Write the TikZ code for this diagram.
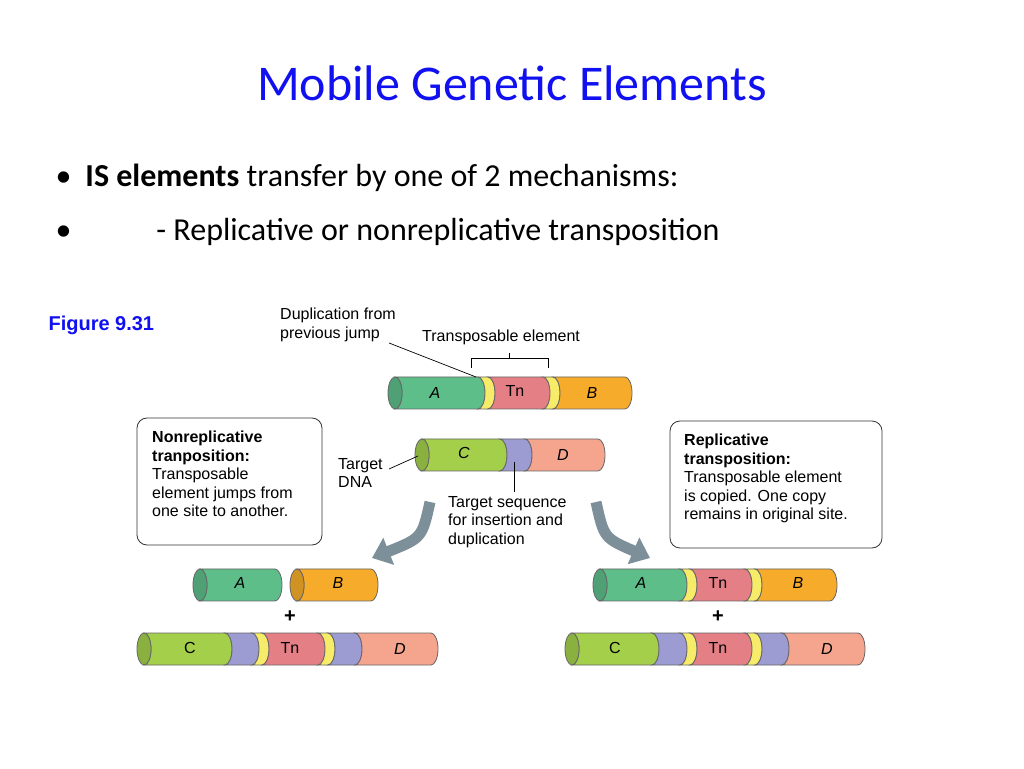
\documentclass[tikz,border=0pt]{standalone}
\usepackage{fontspec}
\setmainfont{Carlito}
\newfontfamily\arial{Liberation Sans}
\usetikzlibrary{arrows.meta}
\definecolor{cA}{HTML}{5DBE8A}
\definecolor{cY}{HTML}{F7EC6A}
\definecolor{cT}{HTML}{E57F86}
\definecolor{cB}{HTML}{F6AC2A}
\definecolor{cC}{HTML}{A3CF4A}
\definecolor{cP}{HTML}{9C9CD2}
\definecolor{cD}{HTML}{F5A48E}
\definecolor{ttl}{HTML}{1010F0}
\definecolor{arr}{HTML}{7D909A}
\newcommand{\seg}[4]{\fill[#4,draw=black!60,line width=0.8pt] (#1,#3+16) -- (#2,#3+16) arc[start angle=90,end angle=-90,x radius=7,y radius=16] -- (#1,#3-16) arc[start angle=-90,end angle=90,x radius=7,y radius=16] -- cycle;}
\newcommand{\capl}[3]{\fill[#3!85!black,draw=black!60,line width=0.8pt] (#1,#2) ellipse[x radius=7,y radius=16];}
\tikzset{lab/.style={font=\arial\fontsize{16}{18.5}\selectfont,align=left,inner sep=0pt},
 seglab/.style={font=\arial\fontsize{16}{18}\selectfont},
 bx/.style={draw=black!80,rounded corners=10pt,line width=0.8pt},
 ln/.style={draw=black,line width=0.7pt},
 bigarrow/.style={draw=arr,line width=11pt,-{Triangle[length=18pt,width=28pt]}}}
\begin{document}
\begin{tikzpicture}[x=1pt,y=1pt]
\useasboundingbox (0,0) rectangle (1024,768);
\node[text=ttl,font=\fontsize{50}{56}\selectfont] (title) at (512,685) {Mobile Genetic Elements};
\node[anchor=west,font=\fontsize{32}{36}\selectfont] (b1) at (52,590) {•\hspace{14pt}\textbf{IS elements} transfer by one of 2 mechanisms:};
\node[anchor=west,font=\fontsize{32}{36}\selectfont] (b2) at (52,536) {•\hspace{85pt}- Replicative or nonreplicative transposition};
\node[anchor=west,text=ttl,font=\arial\bfseries\fontsize{20}{24}\selectfont] (fig) at (45,443) {Figure 9.31};
% top bar
\seg{395}{478}{375}{cA}\seg{478}{488}{375}{cY}\seg{488}{543}{375}{cT}\seg{543}{553}{375}{cY}\seg{553}{625}{375}{cB}\capl{395}{375}{cA}
\node[seglab] (tA) at (435,375) {\textit{A}};\node[seglab] (tT) at (515,377) {Tn};\node[seglab] (tB) at (592,375) {\textit{B}};
% CD bar
\seg{422}{500}{313}{cC}\seg{500}{525}{313}{cP}\seg{525}{598}{313}{cD}\capl{422}{313}{cC}
\node[seglab] (tC) at (464,315) {\textit{C}};\node[seglab] (tD) at (563,313) {\textit{D}};
% bottom left
\seg{200}{275}{183}{cA}\capl{200}{183}{cA}\seg{297}{371}{183}{cB}\capl{297}{183}{cB}
\node[seglab] at (240,185) {\textit{A}};\node[seglab] at (338,185) {\textit{B}};
\node[font=\arial\bfseries\fontsize{20}{22}\selectfont] (p1) at (290,151) {+};
\seg{144}{225}{119}{cC}\seg{225}{252}{119}{cP}\seg{252}{262}{119}{cY}\seg{262}{318}{119}{cT}\seg{318}{328}{119}{cY}\seg{328}{355}{119}{cP}\seg{355}{431}{119}{cD}\capl{144}{119}{cC}
\node[seglab] at (190,120) {C};\node[seglab] at (290,120) {Tn};\node[seglab] at (400,119) {\textit{D}};
% bottom right
\seg{600}{680}{183}{cA}\seg{680}{690}{183}{cY}\seg{690}{745}{183}{cT}\seg{745}{755}{183}{cY}\seg{755}{830}{183}{cB}\capl{600}{183}{cA}
\node[seglab] at (641,185) {\textit{A}};\node[seglab] at (718,185) {Tn};\node[seglab] at (798,185) {\textit{B}};
\node[font=\arial\bfseries\fontsize{20}{22}\selectfont] (p2) at (718,151) {+};
\seg{572}{652}{119}{cC}\seg{652}{680}{119}{cP}\seg{680}{690}{119}{cY}\seg{690}{745}{119}{cT}\seg{745}{755}{119}{cY}\seg{755}{782}{119}{cP}\seg{782}{858}{119}{cD}\capl{572}{119}{cC}
\node[seglab] at (615,120) {C};\node[seglab] at (718,120) {Tn};\node[seglab] at (827,119) {\textit{D}};
% labels
\node[lab,anchor=north west] (dup) at (280,460) {Duplication from\\previous jump};
\node[lab,anchor=north west] (te) at (422,438) {Transposable element};
\coordinate (dupe) at (389,425); \coordinate (dupt) at (476,391);
\draw[ln] (dupe) -- (dupt);
\coordinate (brl) at (471,400); \coordinate (brr) at (548,400);
\draw[ln] (brl) -- ++(0,10) -| (brr); \draw[ln] (509.5,410) -- (509.5,415);
\node[lab,anchor=north west] (tdna) at (338,310) {Target\\DNA};
\coordinate (tdnae) at (418,312);
\draw[ln] (389,299) -- (tdnae);
\node[lab,anchor=north west] (tseq) at (448,272) {Target sequence\\for insertion and\\duplication};
\coordinate (tsa) at (514,306); \coordinate (tsb) at (514,276);
\draw[ln] (tsa) -- (tsb);
% boxes
\draw[bx] (137,223) rectangle (322,350);
\node[lab,anchor=north west] (nb) at (152,337) {\textbf{Nonreplicative}\\\textbf{tranposition:}\\Transposable\\element jumps from\\one site to another.};
\draw[bx] (670,220) rectangle (882,347);
\node[lab,anchor=north west] (rb) at (684,334) {\textbf{Replicative}\\\textbf{transposition:}\\Transposable element\\is copied. One copy\\remains in original site.};
% arrows
\coordinate (la1) at (430,266); \coordinate (la2) at (372,210);
\coordinate (ra1) at (596,266); \coordinate (ra2) at (650,210);
\draw[bigarrow] (la1) .. controls (422,230) .. (la2);
\draw[bigarrow] (ra1) .. controls (604,230) .. (ra2);
\end{tikzpicture}
\end{document}
